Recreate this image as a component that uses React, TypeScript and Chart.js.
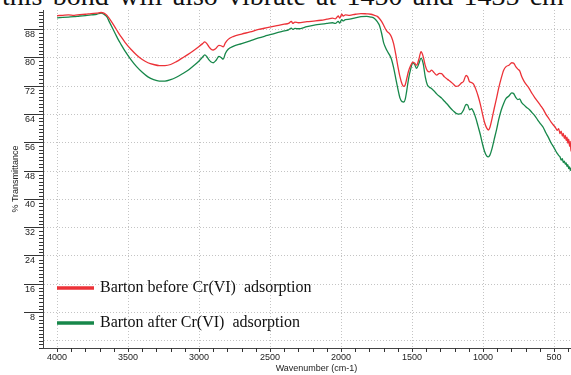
import React, { useEffect, useRef } from 'react';
import { Chart, registerables } from 'chart.js';

Chart.register(...registerables);

// FTIR spectra: wavenumber (cm-1) and % transmittance of each sample
const wavenumbers = [
  4000, 3960, 3920, 3880, 3840, 3800, 3760, 3720, 3690, 3670, 3650, 3630, 3610, 3590, 3570, 3550,
  3520, 3480, 3440, 3400, 3360, 3320, 3280, 3240, 3200, 3160, 3120, 3080, 3040, 3000, 2975, 2960,
  2945, 2930, 2915, 2900, 2880, 2860, 2845, 2830, 2815, 2795, 2760, 2700, 2640, 2580, 2520, 2460,
  2400, 2370, 2350, 2340, 2325, 2300, 2240, 2180, 2140, 2100, 2060, 2040, 2020, 2010, 1995, 1985,
  1970, 1940, 1900, 1860, 1820, 1790, 1765, 1745, 1730, 1715, 1700, 1688, 1675, 1660, 1645, 1630,
  1615, 1600, 1585, 1570, 1558, 1548, 1538, 1525, 1510, 1495, 1482, 1468, 1452, 1437, 1422, 1407,
  1392, 1378, 1363, 1345, 1327, 1308, 1292, 1272, 1250, 1230, 1210, 1190, 1172, 1155, 1138, 1120,
  1108, 1095, 1080, 1068, 1050, 1035, 1020, 1005, 990, 975, 963, 952, 938, 922, 905, 890,
  873, 855, 838, 818, 798, 785, 770, 755, 742, 728, 712, 695, 675, 655, 635, 615,
  595, 576, 558, 540, 522, 505, 490, 478, 468, 458, 450, 442, 435, 428, 421, 415,
  409, 403, 397, 391, 386, 381, 376,
];

const beforeAdsorption = [
  91.9, 92.0, 92.1, 92.0, 92.2, 92.3, 92.5, 92.6, 92.8, 92.6, 92.0, 91.0, 89.8, 88.5, 87.2, 86.0,
  84.3, 82.4, 80.8, 79.5, 78.6, 78.1, 77.8, 77.8, 78.1, 78.9, 79.9, 80.9, 82.0, 83.2, 84.0, 84.5,
  84.0, 83.1, 82.4, 82.2, 82.7, 83.5, 83.4, 83.1, 84.2, 85.2, 86.0, 86.7, 87.3, 88.0, 88.5, 89.0,
  89.5, 89.7, 90.3, 89.7, 90.1, 89.9, 90.2, 90.4, 90.6, 90.9, 91.2, 91.0, 91.8, 91.2, 92.3, 91.8,
  92.1, 92.0, 92.3, 92.5, 92.4, 92.3, 92.0, 91.7, 91.1, 90.3, 89.2, 88.2, 87.4, 86.9, 85.9, 84.0,
  81.0, 77.6, 74.6, 72.5, 71.9, 72.4, 74.0, 76.2, 77.8, 78.8, 78.5, 77.9, 79.6, 81.7, 80.4, 77.8,
  76.3, 76.0, 76.5, 75.8, 75.1, 75.6, 75.5, 74.6, 73.9, 73.3, 72.6, 71.9, 72.1, 72.8, 73.3, 75.0,
  74.6, 73.2, 73.0, 72.6, 71.0, 69.2, 67.0, 64.3, 61.8, 60.2, 59.6, 60.3, 62.6, 65.6, 68.6, 71.4,
  74.1, 76.5, 77.5, 77.9, 78.6, 78.5, 77.5, 76.8, 76.3, 74.7, 73.4, 72.4, 71.3, 69.9, 68.7, 67.6,
  66.5, 65.4, 64.1, 63.0, 61.9, 61.0, 60.3, 59.5, 60.0, 58.6, 59.3, 57.9, 58.6, 57.2, 58.1, 56.6,
  57.6, 55.9, 57.0, 55.0, 56.4, 53.6, 55.5,
];

const afterAdsorption = [
  91.3, 91.4, 91.5, 91.6, 91.8, 91.9, 92.1, 92.3, 92.6, 92.3, 91.6, 90.0, 88.4, 86.8, 85.2, 83.8,
  81.8, 79.5, 77.5, 75.9, 74.6, 73.8, 73.4, 73.4, 73.8, 74.5, 75.4, 76.4, 77.7, 79.1, 80.2, 80.8,
  80.3, 79.4, 78.8, 78.6, 79.3, 80.4, 80.1, 79.6, 81.2, 82.4, 83.2, 84.0, 84.8, 85.6, 86.3, 87.0,
  87.6, 87.9, 88.4, 88.0, 88.3, 88.2, 88.8, 89.3, 89.5, 89.7, 89.9, 89.7, 90.3, 89.8, 90.8, 90.4,
  90.8, 90.9, 91.3, 91.6, 91.7, 91.5, 91.1, 90.2, 89.2, 87.0, 84.2, 83.0, 81.9, 80.9, 79.6, 77.2,
  74.2, 71.2, 68.6, 67.6, 67.5, 68.3, 70.6, 74.0, 76.8, 78.6, 78.1, 77.0, 78.4, 79.9, 78.4, 74.6,
  72.3, 71.7, 71.3, 70.6, 69.8, 69.1, 68.6, 67.7, 66.8, 65.8, 65.0, 64.3, 64.1, 64.2, 65.2, 66.8,
  66.6, 65.3, 65.6, 64.8, 62.8, 60.6, 58.4, 55.8, 53.6, 52.3, 52.0, 52.5, 54.2, 56.9, 59.7, 62.5,
  65.1, 67.1, 68.5, 69.2, 70.1, 69.9, 68.8, 68.2, 68.4, 67.3, 66.7, 66.0, 65.4, 64.5, 63.6, 62.4,
  61.3, 60.3, 58.8, 57.5, 56.0, 54.9, 53.8, 53.0, 52.4, 52.0, 51.1, 51.5, 50.4, 50.8, 49.9, 50.3,
  49.3, 49.8, 48.7, 49.2, 48.2, 48.8, 47.9,
];

const seriesLabels = ['Barton before Cr(VI)  adsorption', 'Barton after Cr(VI)  adsorption'];
const seriesColors = ['#ec3238', '#17874a'];

const xTickValues = [4000, 3500, 3000, 2500, 2000, 1500, 1000, 500];
const yTickValues = [0, 8, 16, 24, 32, 40, 48, 56, 64, 72, 80, 88];

const headingWords = ['this', 'bond', 'will', 'also', 'vibrate', 'at', '1450', 'and', '1435', 'cm'];

const sansFont = "'Liberation Sans', Arial, sans-serif";
const serifFont = "'Liberation Serif', 'Times New Roman', serif";

// minor axis ticks and the in-plot legend
const spectrumDecorations = {
  id: 'spectrumDecorations',
  afterDraw(chart: any) {
    const { ctx, chartArea } = chart;
    const x = chart.scales.x;
    const y = chart.scales.y;
    ctx.save();
    ctx.strokeStyle = '#333';
    ctx.lineWidth = 1;
    ctx.beginPath();
    for (let v = -2; v <= 93; v++) {
      if (v % 8 === 0 && v > 0) continue;
      const py = Math.round(y.getPixelForValue(v)) + 0.5;
      ctx.moveTo(chartArea.left - 4, py);
      ctx.lineTo(chartArea.left, py);
    }
    for (let w = 300; w <= 4000; w += 100) {
      if (w % 500 === 0) continue;
      const px = Math.round(x.getPixelForValue(w)) + 0.5;
      ctx.moveTo(px, chartArea.bottom);
      ctx.lineTo(px, chartArea.bottom + 4);
    }
    ctx.stroke();

    const legendX = chartArea.left + 14;
    const legendRows = [chartArea.top + 278, chartArea.top + 313];
    chart.data.datasets.forEach((ds: any, i: number) => {
      const ly = legendRows[i];
      ctx.strokeStyle = ds.borderColor;
      ctx.lineWidth = 3.5;
      ctx.beginPath();
      ctx.moveTo(legendX, ly);
      ctx.lineTo(legendX + 37, ly);
      ctx.stroke();
      ctx.fillStyle = '#111';
      ctx.font = `16px ${serifFont}`;
      ctx.textBaseline = 'middle';
      ctx.textAlign = 'left';
      ctx.fillText(ds.label, legendX + 43, ly);
    });
    ctx.restore();
  },
};

export default function App() {
  const canvasRef = useRef<HTMLCanvasElement | null>(null);

  useEffect(() => {
    const canvas = canvasRef.current;
    if (!canvas) return;
    const chart = new Chart(canvas, {
      type: 'line',
      data: {
        datasets: [beforeAdsorption, afterAdsorption].map((values, i) => ({
          label: seriesLabels[i],
          data: wavenumbers.map((w, j) => ({ x: w, y: values[j] })),
          borderColor: seriesColors[i],
          backgroundColor: seriesColors[i],
          borderWidth: 1.3,
          pointRadius: 0,
          cubicInterpolationMode: 'monotone' as const,
        })),
      },
      options: {
        responsive: false,
        animation: false,
        events: [],
        layout: { padding: { top: 10, right: 10, left: 0, bottom: 0 } },
        plugins: { legend: { display: false }, tooltip: { enabled: false } },
        scales: {
          x: {
            type: 'linear',
            reverse: true,
            min: 247,
            max: 4099,
            afterFit: (s: any) => {
              s.height = 27;
            },
            afterBuildTicks: (s: any) => {
              s.ticks = xTickValues.map((v) => ({ value: v }));
            },
            ticks: {
              autoSkip: false,
              maxRotation: 0,
              padding: 0,
              color: '#222',
              font: { family: sansFont, size: 9 },
              callback: (v: any) => String(v),
            },
            grid: {
              color: '#c4c4c4',
              tickColor: '#333',
              tickLength: 4,
            },
            border: { display: true, color: '#444', width: 1, dash: [1, 2] },
            title: {
              display: true,
              text: 'Wavenumber (cm-1)',
              color: '#222',
              font: { family: sansFont, size: 9 },
              padding: { top: 0, bottom: 1 },
            },
          },
          y: {
            type: 'linear',
            min: -2,
            max: 93.5,
            afterFit: (s: any) => {
              s.width = 43;
            },
            afterBuildTicks: (s: any) => {
              s.ticks = yTickValues.map((v) => ({ value: v }));
            },
            ticks: {
              autoSkip: false,
              padding: -11,
              labelOffset: 5,
              color: '#222',
              font: { family: sansFont, size: 9 },
              callback: (v: any) => (v === 0 ? '' : String(v)),
            },
            grid: {
              color: '#c4c4c4',
              tickLength: 19,
              tickColor: (c: any) => (c.tick && c.tick.value === 0 ? 'rgba(0,0,0,0)' : '#333'),
            },
            border: { display: true, color: '#444', width: 1, dash: [1, 2] },
            title: {
              display: true,
              text: '% Transmittance',
              color: '#222',
              font: { family: sansFont, size: 9 },
              padding: { top: 10, bottom: 0 },
            },
          },
        },
      },
      plugins: [spectrumDecorations],
    } as any);
    return () => chart.destroy();
  }, []);

  return (
    <div
      style={{
        position: 'fixed',
        left: 0,
        top: 0,
        width: 571,
        height: 375,
        overflow: 'hidden',
        background: '#fff',
      }}
    >
      <div
        style={{
          position: 'absolute',
          left: 2,
          top: -18,
          width: 562,
          display: 'flex',
          justifyContent: 'space-between',
          fontFamily: serifFont,
          fontSize: 28,
          lineHeight: '28px',
          color: '#111',
          whiteSpace: 'nowrap',
        }}
      >
        {headingWords.map((w, i) => (
          <span key={i}>{w}</span>
        ))}
      </div>
      <canvas
        ref={canvasRef}
        width={600}
        height={375}
        style={{ position: 'absolute', left: 0, top: 0, width: 600, height: 375 }}
      />
    </div>
  );
}
